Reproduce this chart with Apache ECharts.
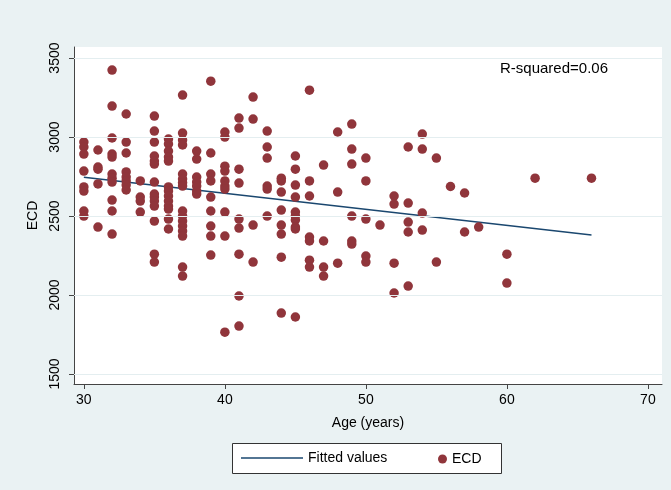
<!DOCTYPE html>
<html>
<head>
<meta charset="utf-8">
<script src="https://cdn.jsdelivr.net/npm/echarts@6/dist/echarts.min.js"></script>
<style>html,body{margin:0;padding:0;background:#eaf2f3;}#c{width:671px;height:490px;}</style>
</head>
<body>
<div id="c"></div>
<script>
// Age (years) per column and ECD values
const ages = [30,31,32,33,34,35,36,37,38,39,40,41,42,43,44,45,46,47,48,49,50,51,52,53,54,55,56,57,58,60,62,66];
const ecdByAge = [
  [2968,2937,2892,2785,2684,2658,2532,2500],
  [2918,2810,2797,2703,2430],
  [3424,3196,2994,2892,2873,2766,2740,2715,2601,2532,2386],
  [3146,2968,2899,2779,2747,2722,2696,2665],
  [2722,2620,2595,2525],
  [3133,3038,2968,2880,2848,2829,2715,2639,2620,2595,2563,2468,2259,2209],
  [2987,2956,2911,2873,2848,2684,2658,2627,2595,2563,2544,2481,2418],
  [3266,3025,2981,2950,2766,2734,2710,2690,2532,2500,2468,2437,2405,2373,2177,2120],
  [2911,2861,2747,2715,2690,2658,2639],
  [3354,2899,2766,2722,2620,2532,2437,2373,2253],
  [3032,3000,2816,2785,2722,2690,2671,2525,2373,1765],
  [3120,3057,2797,2709,2481,2424,2259,1994,1804],
  [3253,3114,2443,2209],
  [3038,2937,2867,2690,2671,2500],
  [2740,2722,2652,2538,2443,2386,2240,1886],
  [2880,2797,2696,2620,2525,2500,2475,2430,2418,1861],
  [3297,2722,2627,2367,2342,2221,2177],
  [2823,2342,2177,2120],
  [3032,2652,2202],
  [3082,2924,2829,2500,2342,2323],
  [2867,2722,2481,2247,2209],
  [2443],
  [2627,2576,2202,2013],
  [2937,2582,2462,2399,2057],
  [3019,2924,2519,2411],
  [2867,2209],
  [2687],
  [2646,2399],
  [2430],
  [2259,2076],
  [2740],
  [2740]
];
// Fitted line endpoints
const fitAges = [30, 66];
const fitValues = [2745, 2380];
const yTicks = [1500, 2000, 2500, 3000, 3500];
const xTicks = [30, 40, 50, 60, 70];
const rSquaredText = 'R-squared=0.06';

const scatterData = [];
ages.forEach((a, i) => ecdByAge[i].forEach(v => scatterData.push([a, v])));
const fitData = fitAges.map((a, i) => [a, fitValues[i]]);

const FONT = '"Liberation Sans", Arial, Helvetica, sans-serif';
const chart = echarts.init(document.getElementById('c'));
chart.setOption({
  backgroundColor: '#eaf2f3',
  animation: false,
  textStyle: { fontFamily: FONT },
  grid: { left: 74, right: 9, top: 47, bottom: 106, show: true, backgroundColor: '#ffffff', borderWidth: 0 },
  xAxis: {
    type: 'value', min: 29.3, max: 71,
    name: 'Age (years)', nameLocation: 'middle', nameGap: 32,
    nameTextStyle: { color: '#000', fontSize: 14, fontFamily: FONT },
    axisLine: { show: true, onZero: false, lineStyle: { color: '#444', width: 1 } },
    axisTick: { show: true, length: 5, customValues: xTicks, lineStyle: { color: '#444' } },
    axisLabel: { customValues: xTicks, color: '#000', fontSize: 14, margin: 9, fontFamily: FONT,
      formatter: v => String(v) },
    splitLine: { show: false }
  },
  yAxis: {
    type: 'value', min: 1437, max: 3570,
    name: 'ECD', nameLocation: 'middle', nameGap: 34, nameRotate: 90,
    nameTextStyle: { color: '#000', fontSize: 14, fontFamily: FONT },
    axisLine: { show: true, onZero: false, lineStyle: { color: '#444', width: 1 } },
    axisTick: { show: true, length: 5, customValues: yTicks, lineStyle: { color: '#444' } },
    axisLabel: { customValues: yTicks, rotate: 90, color: '#000', fontSize: 14, margin: 12, fontFamily: FONT,
      formatter: v => String(v) },
    splitLine: { show: false }
  },
  legend: [
    { data: [{ name: 'Fitted values', icon: 'rect' }], left: 241, top: 451, itemWidth: 62, itemHeight: 1.5, itemGap: 10,
      textStyle: { color: '#000', fontSize: 14, fontFamily: FONT }, padding: 0 },
    { data: [{ name: 'ECD', icon: 'circle' }], left: 438, top: 451, itemWidth: 9, itemHeight: 9, itemGap: 8,
      textStyle: { color: '#000', fontSize: 14, fontFamily: FONT }, padding: [1, 0, 0, 0] }
  ],
  graphic: [
    { type: 'rect', left: 232, top: 443, z: -1, silent: true,
      shape: { width: 269, height: 30 }, style: { fill: '#ffffff', stroke: '#333', lineWidth: 1 } },
    { type: 'text', left: 500, top: 61, silent: true,
      style: { text: rSquaredText, fill: '#000', font: '15px ' + FONT } }
  ],
  series: [
    {
      name: 'Fitted values', type: 'line', data: fitData, showSymbol: false, symbol: 'none',
      lineStyle: { color: '#1a476f', width: 1.5 }, itemStyle: { color: '#1a476f' }, z: 3,
      markLine: {
        silent: true, symbol: 'none', label: { show: false }, animation: false,
        lineStyle: { color: '#e4eef0', width: 1, type: 'solid' },
        data: yTicks.map(v => ({ yAxis: v }))
      }
    },
    {
      name: 'ECD', type: 'scatter', data: scatterData, symbol: 'circle', symbolSize: 9.5,
      itemStyle: { color: '#90353b', opacity: 1 }, z: 4
    }
  ]
});
</script>
</body>
</html>
